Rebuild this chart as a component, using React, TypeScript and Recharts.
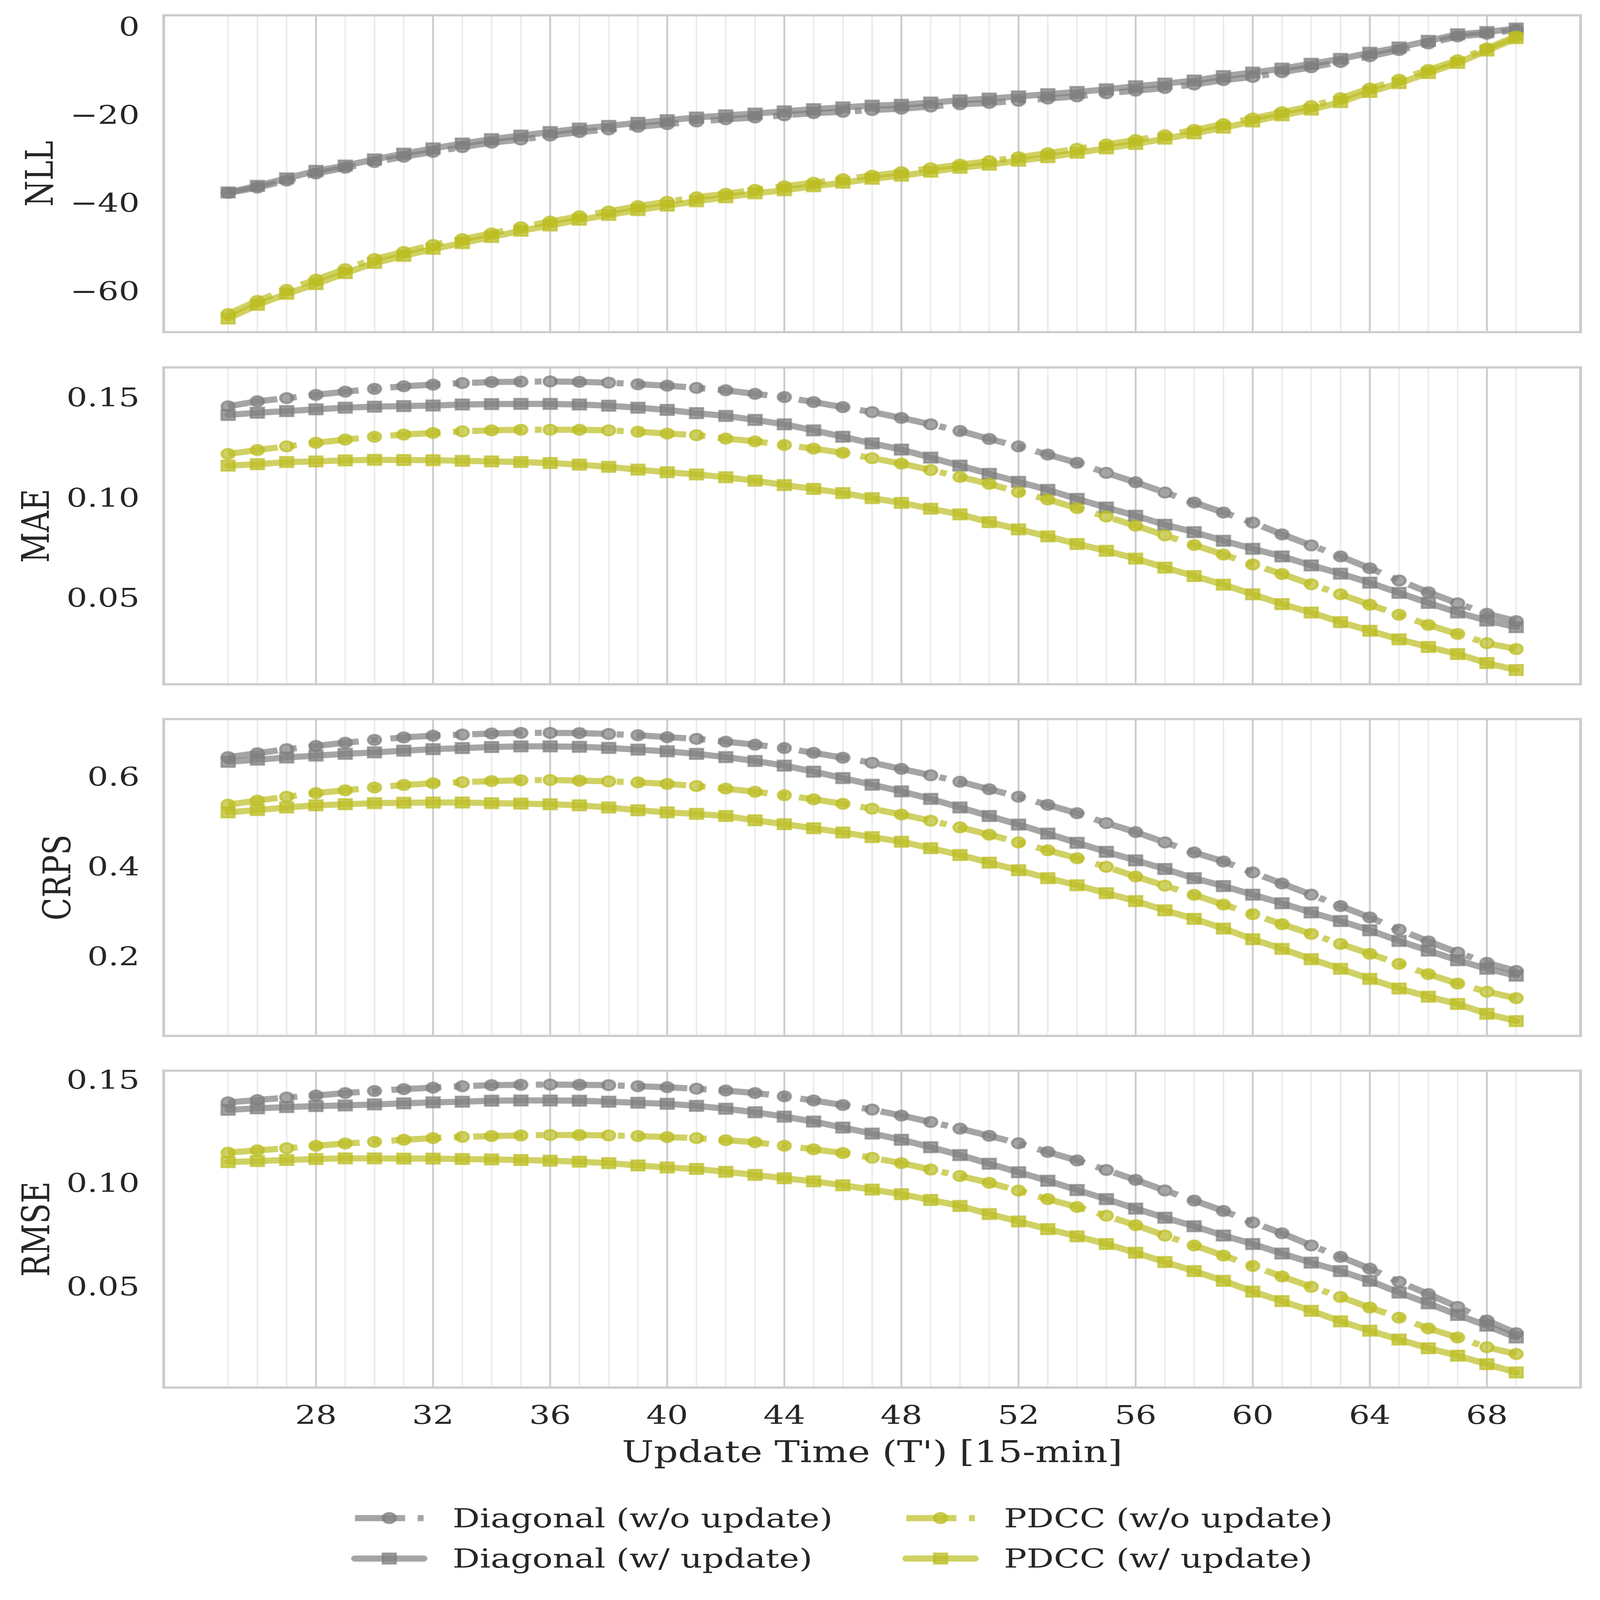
import React from 'react';
import { LineChart, Line, XAxis, YAxis, CartesianGrid } from 'recharts';

// update time steps (15-min) and tick positions
const updateTimes = [25, 26, 27, 28, 29, 30, 31, 32, 33, 34, 35, 36, 37, 38, 39, 40, 41, 42, 43, 44, 45, 46, 47,
  48, 49, 50, 51, 52, 53, 54, 55, 56, 57, 58, 59, 60, 61, 62, 63, 64, 65, 66, 67, 68, 69];
const majorTicks = [28, 32, 36, 40, 44, 48, 52, 56, 60, 64, 68];

// NLL
const nllDiagonalWo = [-37.8, -36.6, -35.0, -33.4, -32.1, -30.8, -29.6, -28.5, -27.4, -26.4, -25.7, -24.8, -24.0, -23.4, -22.8, -22.2, -21.6, -21.1, -20.7, -20.2, -19.7, -19.4, -19.0,
  -18.7, -18.2, -17.7, -17.4, -16.9, -16.4, -15.9, -15.2, -14.6, -14.0, -13.2, -12.2, -11.5, -10.4, -9.3, -8.1, -6.8, -5.4, -3.9, -2.3, -1.7, -0.8];
const nllDiagonalW = [-37.7, -36.2, -34.5, -32.8, -31.6, -30.2, -28.9, -27.7, -26.6, -25.6, -24.8, -24.0, -23.2, -22.6, -21.9, -21.3, -20.7, -20.2, -19.8, -19.3, -18.8, -18.4, -18.0,
  -17.8, -17.3, -16.8, -16.4, -15.9, -15.4, -14.9, -14.3, -13.6, -13.0, -12.3, -11.3, -10.5, -9.6, -8.5, -7.4, -6.0, -4.8, -3.3, -1.8, -1.3, -0.5];
const nllPdccWo = [-65.3, -62.3, -59.8, -57.5, -55.1, -52.8, -51.2, -49.6, -48.3, -47.0, -45.6, -44.3, -43.1, -42.0, -40.8, -39.8, -38.8, -38.0, -37.1, -36.3, -35.5, -34.7, -33.9,
  -33.1, -32.2, -31.4, -30.6, -29.7, -28.8, -27.8, -26.8, -25.8, -24.7, -23.5, -22.2, -20.9, -19.5, -18.1, -16.3, -14.1, -12.1, -9.9, -7.7, -5.0, -2.3];
const nllPdccW = [-66.3, -63.2, -60.7, -58.5, -56.0, -53.7, -52.1, -50.5, -49.2, -47.8, -46.4, -45.2, -43.9, -42.8, -41.7, -40.7, -39.7, -38.8, -37.9, -37.2, -36.3, -35.5, -34.6,
  -33.9, -33.0, -32.1, -31.4, -30.5, -29.7, -28.7, -27.7, -26.7, -25.5, -24.3, -23.0, -21.6, -20.2, -18.9, -17.2, -14.9, -12.9, -10.6, -8.3, -5.5, -2.7];

// MAE
const maeDiagonalWo = [0.1454, 0.1479, 0.1495, 0.1511, 0.1527, 0.1541, 0.1554, 0.1562, 0.1570, 0.1575, 0.1577, 0.1578, 0.1576, 0.1572, 0.1564, 0.1557, 0.1546, 0.1534, 0.1516, 0.1500, 0.1475, 0.1450, 0.1425,
  0.1396, 0.1364, 0.1331, 0.1291, 0.1254, 0.1213, 0.1172, 0.1122, 0.1075, 0.1024, 0.0974, 0.0924, 0.0874, 0.0815, 0.0760, 0.0705, 0.0646, 0.0585, 0.0526, 0.0471, 0.0419, 0.0382];
const maeDiagonalW = [0.1411, 0.1422, 0.1430, 0.1439, 0.1447, 0.1452, 0.1455, 0.1458, 0.1463, 0.1465, 0.1466, 0.1466, 0.1463, 0.1457, 0.1447, 0.1436, 0.1420, 0.1406, 0.1386, 0.1364, 0.1334, 0.1302, 0.1269,
  0.1238, 0.1198, 0.1158, 0.1117, 0.1077, 0.1037, 0.0992, 0.0949, 0.0908, 0.0863, 0.0826, 0.0783, 0.0743, 0.0705, 0.0660, 0.0619, 0.0574, 0.0523, 0.0473, 0.0425, 0.0385, 0.0352];
const maePdccWo = [0.1216, 0.1236, 0.1254, 0.1272, 0.1288, 0.1302, 0.1313, 0.1321, 0.1329, 0.1334, 0.1337, 0.1337, 0.1337, 0.1334, 0.1327, 0.1318, 0.1310, 0.1293, 0.1279, 0.1261, 0.1243, 0.1222, 0.1195,
  0.1168, 0.1136, 0.1102, 0.1067, 0.1026, 0.0989, 0.0946, 0.0904, 0.0858, 0.0810, 0.0762, 0.0714, 0.0665, 0.0617, 0.0566, 0.0516, 0.0464, 0.0414, 0.0363, 0.0318, 0.0272, 0.0243];
const maePdccW = [0.1158, 0.1165, 0.1176, 0.1179, 0.1184, 0.1187, 0.1186, 0.1185, 0.1182, 0.1179, 0.1176, 0.1171, 0.1163, 0.1152, 0.1138, 0.1125, 0.1114, 0.1100, 0.1083, 0.1061, 0.1042, 0.1021, 0.0996,
  0.0972, 0.0943, 0.0915, 0.0876, 0.0840, 0.0805, 0.0767, 0.0733, 0.0694, 0.0649, 0.0607, 0.0564, 0.0516, 0.0467, 0.0425, 0.0377, 0.0334, 0.0291, 0.0253, 0.0218, 0.0173, 0.0138];

// CRPS
const crpsDiagonalWo = [0.6429, 0.6515, 0.6606, 0.6677, 0.6749, 0.6811, 0.6868, 0.6906, 0.6930, 0.6954, 0.6968, 0.6968, 0.6964, 0.6944, 0.6916, 0.6873, 0.6835, 0.6773, 0.6706, 0.6630, 0.6525, 0.6415, 0.6303,
  0.6167, 0.6024, 0.5881, 0.5714, 0.5547, 0.5366, 0.5180, 0.4960, 0.4760, 0.4531, 0.4307, 0.4106, 0.3863, 0.3615, 0.3367, 0.3114, 0.2861, 0.2590, 0.2327, 0.2079, 0.1850, 0.1669];
const crpsDiagonalW = [0.6324, 0.6372, 0.6420, 0.6463, 0.6501, 0.6534, 0.6572, 0.6606, 0.6630, 0.6653, 0.6668, 0.6668, 0.6658, 0.6634, 0.6596, 0.6558, 0.6501, 0.6429, 0.6343, 0.6239, 0.6105, 0.5962, 0.5814,
  0.5666, 0.5499, 0.5308, 0.5118, 0.4927, 0.4726, 0.4521, 0.4321, 0.4130, 0.3939, 0.3734, 0.3558, 0.3367, 0.3176, 0.2971, 0.2780, 0.2575, 0.2337, 0.2122, 0.1907, 0.1717, 0.1564];
const crpsPdccWo = [0.5370, 0.5461, 0.5547, 0.5628, 0.5690, 0.5752, 0.5809, 0.5847, 0.5871, 0.5895, 0.5914, 0.5919, 0.5905, 0.5890, 0.5866, 0.5833, 0.5785, 0.5728, 0.5657, 0.5580, 0.5490, 0.5389, 0.5280,
  0.5151, 0.5013, 0.4865, 0.4703, 0.4531, 0.4354, 0.4178, 0.3987, 0.3772, 0.3567, 0.3362, 0.3147, 0.2933, 0.2709, 0.2494, 0.2270, 0.2050, 0.1826, 0.1597, 0.1388, 0.1206, 0.1063];
const crpsPdccW = [0.5199, 0.5251, 0.5308, 0.5356, 0.5380, 0.5404, 0.5413, 0.5418, 0.5418, 0.5404, 0.5394, 0.5380, 0.5356, 0.5308, 0.5246, 0.5199, 0.5165, 0.5118, 0.5022, 0.4936, 0.4846, 0.4750, 0.4648,
  0.4545, 0.4402, 0.4250, 0.4080, 0.3911, 0.3734, 0.3577, 0.3400, 0.3224, 0.3019, 0.2828, 0.2613, 0.2375, 0.2160, 0.1931, 0.1717, 0.1492, 0.1278, 0.1096, 0.0934, 0.0715, 0.0553];

// RMSE
const rmseDiagonalWo = [0.1389, 0.1400, 0.1412, 0.1422, 0.1434, 0.1444, 0.1453, 0.1460, 0.1467, 0.1472, 0.1474, 0.1475, 0.1474, 0.1472, 0.1467, 0.1462, 0.1455, 0.1446, 0.1434, 0.1418, 0.1398, 0.1376, 0.1354,
  0.1325, 0.1294, 0.1262, 0.1227, 0.1191, 0.1149, 0.1108, 0.1062, 0.1014, 0.0963, 0.0914, 0.0864, 0.0808, 0.0756, 0.0697, 0.0642, 0.0585, 0.0521, 0.0462, 0.0400, 0.0334, 0.0273];
const rmseDiagonalW = [0.1353, 0.1360, 0.1366, 0.1371, 0.1374, 0.1379, 0.1384, 0.1389, 0.1392, 0.1397, 0.1398, 0.1398, 0.1397, 0.1392, 0.1387, 0.1382, 0.1372, 0.1358, 0.1341, 0.1320, 0.1296, 0.1267, 0.1238,
  0.1208, 0.1172, 0.1134, 0.1092, 0.1051, 0.1010, 0.0965, 0.0921, 0.0875, 0.0831, 0.0790, 0.0745, 0.0704, 0.0658, 0.0614, 0.0573, 0.0526, 0.0469, 0.0417, 0.0361, 0.0309, 0.0252];
const rmsePdccWo = [0.1146, 0.1157, 0.1167, 0.1179, 0.1190, 0.1198, 0.1208, 0.1216, 0.1222, 0.1226, 0.1229, 0.1231, 0.1231, 0.1229, 0.1226, 0.1221, 0.1216, 0.1206, 0.1196, 0.1179, 0.1162, 0.1144, 0.1121,
  0.1095, 0.1064, 0.1033, 0.1000, 0.0962, 0.0921, 0.0883, 0.0841, 0.0795, 0.0745, 0.0697, 0.0648, 0.0598, 0.0547, 0.0497, 0.0448, 0.0397, 0.0348, 0.0296, 0.0252, 0.0205, 0.0172];
const rmsePdccW = [0.1100, 0.1105, 0.1110, 0.1115, 0.1118, 0.1118, 0.1117, 0.1117, 0.1115, 0.1113, 0.1110, 0.1107, 0.1102, 0.1095, 0.1084, 0.1074, 0.1067, 0.1053, 0.1038, 0.1022, 0.1007, 0.0988, 0.0967,
  0.0945, 0.0917, 0.0888, 0.0849, 0.0813, 0.0776, 0.0741, 0.0704, 0.0662, 0.0617, 0.0573, 0.0526, 0.0474, 0.0428, 0.0381, 0.0330, 0.0285, 0.0242, 0.0200, 0.0164, 0.0123, 0.0083];

const nllTicks = [-60, -40, -20, 0];
const maeTicks = [0.05, 0.1, 0.15];
const crpsTicks = [0.2, 0.4, 0.6];
const rmseTicks = [0.05, 0.1, 0.15];

const GRAY = '#7f7f7f';
const OLIVE = '#bcbd22';
const TEXT = '#262626';
const FONT = '"DejaVu Serif", serif';
const LW = 25;
const DASHDOT = '160 40 22 40';

const series = [
  { key: 'diagWo', name: 'Diagonal (w/o update)', color: GRAY, shape: 'circle', dashed: true },
  { key: 'diagW', name: 'Diagonal (w/ update)', color: GRAY, shape: 'square', dashed: false },
  { key: 'pdccWo', name: 'PDCC (w/o update)', color: OLIVE, shape: 'circle', dashed: true },
  { key: 'pdccW', name: 'PDCC (w/ update)', color: OLIVE, shape: 'square', dashed: false },
];

const minus = (v: number) => (v < 0 ? '\u2212' + Math.abs(v) : String(v));

const panels = [
  { name: 'NLL', top: 62, domain: [-69.4, 2.5], ticks: nllTicks, fmt: minus, labelDist: 396,
    values: [nllDiagonalWo, nllDiagonalW, nllPdccWo, nllPdccW] },
  { name: 'MAE', top: 1489, domain: [0.0067, 0.1648], ticks: maeTicks, fmt: (v: number) => v.toFixed(2), labelDist: 409,
    values: [maeDiagonalWo, maeDiagonalW, maePdccWo, maePdccW] },
  { name: 'CRPS', top: 2914, domain: [0.0223, 0.7276], ticks: crpsTicks, fmt: (v: number) => v.toFixed(1), labelDist: 340,
    values: [crpsDiagonalWo, crpsDiagonalW, crpsPdccWo, crpsPdccW] },
  { name: 'RMSE', top: 4339, domain: [0.001, 0.1542], ticks: rmseTicks, fmt: (v: number) => v.toFixed(2), labelDist: 407,
    values: [rmseDiagonalWo, rmseDiagonalW, rmsePdccWo, rmsePdccW] },
];

const W = 5111;
const H = 6484;
const PLOT_H = 1284;
const MT = 60;
const X_DOMAIN = [22.8, 71.2];
const spine = { stroke: '#cccccc', strokeWidth: 9, strokeLinecap: 'square' as const };
const tickStyle = { fontSize: 105, fill: TEXT, fontFamily: FONT };
const noTick = () => <g />;

const markerStyle = (color: string) => ({
  fill: color, fillOpacity: 0.7, stroke: color, strokeOpacity: 0.7, strokeWidth: 8,
});

const Marker = ({ cx, cy, color, shape }: { cx: number; cy: number; color: string; shape: string }) =>
  shape === 'circle'
    ? <circle cx={cx} cy={cy} r={20.5} {...markerStyle(color)} />
    : <rect x={cx - 20.5} y={cy - 20.5} width={41} height={41} {...markerStyle(color)} />;

const makeDot = (color: string, shape: string) => (props: any) => {
  const { cx, cy, index } = props;
  if (cx == null || cy == null) return <g key={index} />;
  return <Marker key={index} cx={cx} cy={cy} color={color} shape={shape} />;
};

const YLabel = (props: any) => {
  const { viewBox, text, dist } = props;
  const x = viewBox.x + viewBox.width - dist;
  const y = viewBox.y + viewBox.height / 2;
  return (
    <text x={x} y={y} transform={`rotate(-90 ${x} ${y})`} textAnchor="middle" dominantBaseline="central"
      fontSize={121} fontFamily={FONT} fill={TEXT}>{text}</text>
  );
};

const XLabel = (props: any) => {
  const { viewBox } = props;
  return (
    <text x={viewBox.x + viewBox.width / 2} y={viewBox.y + 303} textAnchor="middle"
      fontSize={121} fontFamily={FONT} fill={TEXT}>Update Time (T') [15-min]</text>
  );
};

function Panel({ p, last }: { p: typeof panels[number]; last: boolean }) {
  const rows = updateTimes.map((t, i) => ({
    t,
    diagWo: p.values[0][i],
    diagW: p.values[1][i],
    pdccWo: p.values[2][i],
    pdccW: p.values[3][i],
  }));
  const bottomH = last ? 400 : 1;
  const mb = last ? 0 : 40;
  return (
    <div style={{ position: 'absolute', left: 0, top: p.top - MT - 1 }}>
      <LineChart width={W} height={MT + 1 + PLOT_H + 1 + bottomH + mb} data={rows}
        margin={{ top: MT, right: 61, bottom: mb, left: 223 }}>
        <XAxis xAxisId="minor" dataKey="t" type="number" domain={X_DOMAIN} allowDataOverflow
          ticks={updateTimes} interval={0} tick={noTick} tickLine={false} axisLine={false} height={1} />
        <XAxis xAxisId="main" dataKey="t" type="number" domain={X_DOMAIN} allowDataOverflow
          ticks={majorTicks} interval={0} tickLine={false} tickSize={0} tickMargin={72}
          axisLine={spine} height={bottomH}
          tick={last ? tickStyle : noTick}
          label={last ? <XLabel /> : undefined} />
        <XAxis xAxisId="top" orientation="top" dataKey="t" type="number" domain={X_DOMAIN} allowDataOverflow
          tick={noTick} tickLine={false} axisLine={spine} height={1} />
        <YAxis yAxisId="y" type="number" domain={p.domain} allowDataOverflow ticks={p.ticks} interval={0}
          width={300} tickLine={false} tickSize={0} tickMargin={77} axisLine={spine}
          tickFormatter={p.fmt} tick={tickStyle}
          label={<YLabel text={p.name} dist={p.labelDist} />} />
        <YAxis yAxisId="yr" orientation="right" type="number" domain={p.domain} allowDataOverflow
          width={1} tick={noTick} tickLine={false} axisLine={spine} />
        <CartesianGrid xAxisId="minor" yAxisId="y" horizontal={false} stroke="#ebebeb" strokeWidth={5} />
        <CartesianGrid xAxisId="main" yAxisId="y" horizontal={false} stroke="#cccccc" strokeWidth={6} />
        {series.map((s) => (
          <Line key={s.key} xAxisId="main" yAxisId="y" type="linear" dataKey={s.key} name={s.name}
            stroke={s.color} strokeOpacity={0.7} strokeWidth={LW}
            strokeDasharray={s.dashed ? DASHDOT : undefined}
            strokeLinecap={s.dashed ? 'butt' : 'round'} strokeLinejoin="round"
            dot={makeDot(s.color, s.shape)} activeDot={false} isAnimationActive={false} />
        ))}
      </LineChart>
    </div>
  );
}

function LegendBlock() {
  const cols = [1134, 2895];
  const rowsY = [6152, 6316];
  const handleLen = 219;
  return (
    <svg width={W} height={H} style={{ position: 'absolute', left: 0, top: 0, pointerEvents: 'none' }}>
      {series.map((s, i) => {
        const x0 = cols[Math.floor(i / 2)];
        const y = rowsY[i % 2];
        return (
          <g key={s.key}>
            <line x1={x0} y1={y} x2={x0 + handleLen} y2={y} stroke={s.color} strokeOpacity={0.7} strokeWidth={LW}
              strokeDasharray={s.dashed ? DASHDOT : undefined} strokeLinecap={s.dashed ? 'butt' : 'round'} />
            <Marker cx={x0 + handleLen / 2} cy={y} color={s.color} shape={s.shape} />
            <text x={x0 + 312} y={y} dominantBaseline="central" fontSize={108} fontFamily={FONT} fill={TEXT}>{s.name}</text>
          </g>
        );
      })}
    </svg>
  );
}

export default function App() {
  // the browser window may be smaller than the figure; fit the figure to it
  const vw = typeof window !== 'undefined' ? window.innerWidth : W;
  const vh = typeof window !== 'undefined' ? window.innerHeight : H;
  const sx = Math.min(1, vw / W);
  const sy = Math.min(1, vh / H);
  return (
    <div style={{ position: 'absolute', left: 0, top: 0, width: W, height: H, background: '#fff', overflow: 'hidden',
      transform: `scale(${sx}, ${sy})`, transformOrigin: '0 0' }}>
      {panels.map((p, i) => <Panel key={p.name} p={p} last={i === panels.length - 1} />)}
      <LegendBlock />
    </div>
  );
}
